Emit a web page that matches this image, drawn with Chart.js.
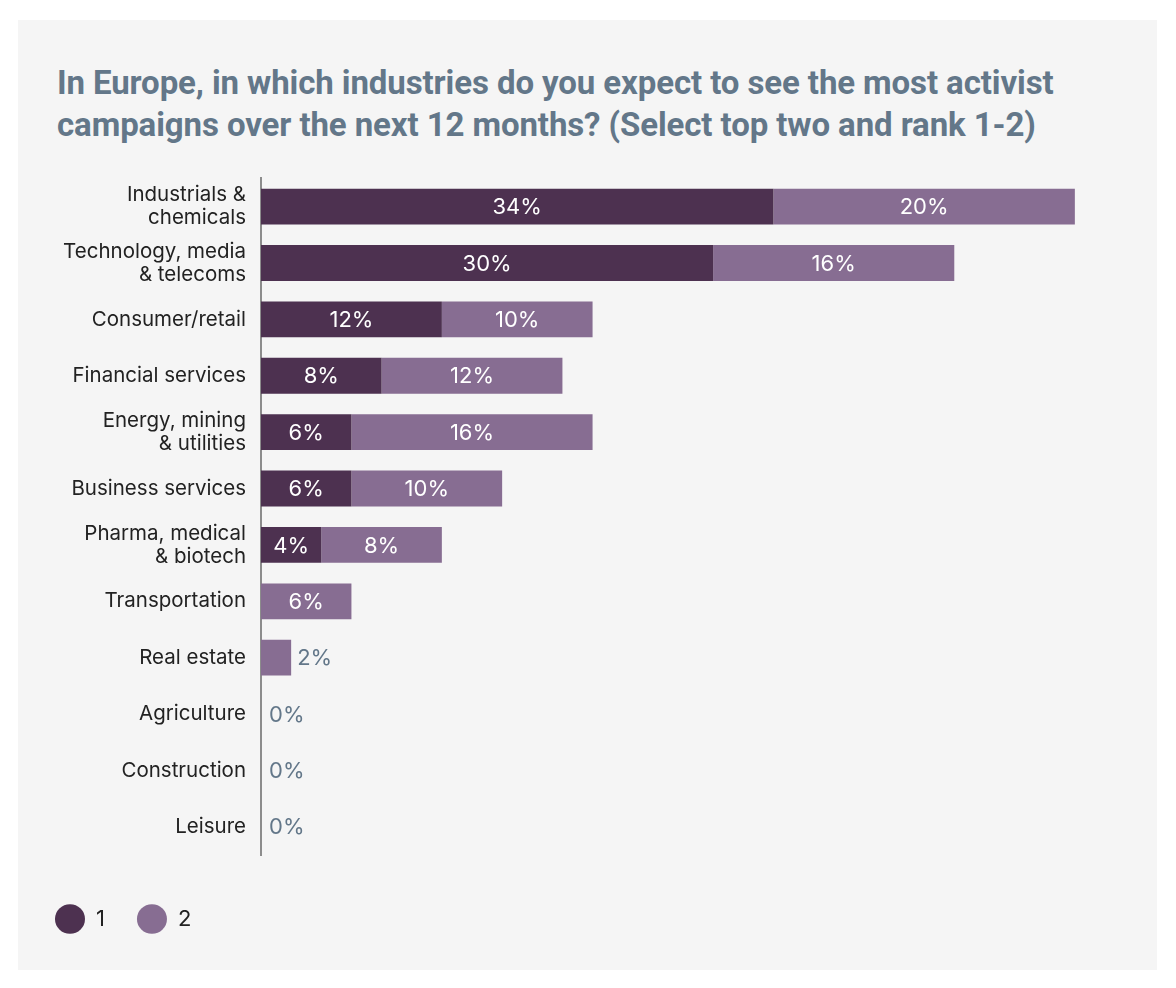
<!DOCTYPE html>
<html>
<head>
<meta charset="utf-8">
<script src="https://cdn.jsdelivr.net/npm/chart.js@4.4.1/dist/chart.umd.min.js"></script>
<style>
  body { margin: 0; background: #ffffff; width: 1176px; height: 988px; position: relative; font-family: Inter, Lato, sans-serif; }
  #panel { position: absolute; left: 18px; top: 20px; width: 1139px; height: 950px; background: #f5f5f5; }
  #title { position: absolute; left: 39px; top: 42px; margin: 0; font: bold 33px Roboto, Lato, sans-serif; line-height: 42px; color: #637789; letter-spacing: -0.1px; white-space: nowrap; }
  #wrap { position: absolute; left: 0; top: 132px; width: 1139px; height: 798px; }
</style>
</head>
<body>
<div id="panel">
  <h1 id="title">In Europe, in which industries do you expect to see the most activist<br>campaigns over the next 12 months? (Select top two and rank 1-2)</h1>
  <div id="wrap"><canvas id="chart"></canvas></div>
</div>
<script>
//====================== DATA ======================//
const industries = [
    ['Industrials &', 'chemicals'],
    ['Technology, media', '& telecoms'],
    'Consumer/retail',
    'Financial services',
    ['Energy, mining', '& utilities'],
    'Business services',
    ['Pharma, medical', '& biotech'],
    'Transportation',
    'Real estate',
    'Agriculture',
    'Construction',
    'Leisure'
];
const rank1 = [34, 30, 12, 8, 6, 6, 4, 0, 0, 0, 0, 0];
const rank2 = [20, 16, 10, 12, 16, 10, 8, 6, 2, 0, 0, 0];
const seriesNames = ['1', '2'];

const darkPurple = '#4d3150';
const lightPurple = '#876d92';
const slate = '#637789';
const fontFamily = 'Inter, Lato, sans-serif';

//====================== VALUE LABELS ======================//
const valueLabels = {
    id: 'valueLabels',
    afterDatasetsDraw(chart){
        const ctx = chart.ctx;
        const xScale = chart.scales.x;
        ctx.save();
        ctx.font = '22px ' + fontFamily;
        ctx.textBaseline = 'middle';
        chart.data.datasets.forEach(function(ds, d){
            const meta = chart.getDatasetMeta(d);
            meta.data.forEach(function(bar, i){
                const v = ds.data[i];
                if(v > 0){
                    const w = Math.abs(bar.x - bar.base);
                    if(w > 45){
                        ctx.fillStyle = '#ffffff';
                        ctx.textAlign = 'center';
                        ctx.fillText(v + '%', (bar.x + bar.base) / 2, bar.y + 1);
                    } else {
                        ctx.fillStyle = slate;
                        ctx.textAlign = 'left';
                        ctx.fillText(v + '%', bar.x + 6, bar.y + 1);
                    }
                } else if(d === 0 && rank1[i] + rank2[i] === 0){
                    ctx.fillStyle = slate;
                    ctx.textAlign = 'left';
                    ctx.fillText('0%', xScale.getPixelForValue(0) + 8, bar.y + 1);
                }
            });
        });
        ctx.restore();
    }
};

//====================== CHART ======================//
const ctx = document.getElementById('chart').getContext('2d');
const myChart = new Chart(ctx, {
    type: 'bar',
    data: {
        labels: industries,
        datasets: [
            { label: seriesNames[0], data: rank1, backgroundColor: darkPurple, borderWidth: 0 },
            { label: seriesNames[1], data: rank2, backgroundColor: lightPurple, borderWidth: 0 }
        ]
    },
    options: {
        indexAxis: 'y',
        responsive: true,
        maintainAspectRatio: false,
        animation: false,
        layout: { padding: { left: 5, right: 52, top: 10, bottom: 10 } },
        datasets: { bar: { categoryPercentage: 1, barPercentage: 0.636 } },
        scales: {
            x: {
                stacked: true, min: 0, max: 56,
                grid: { display: false, drawTicks: false },
                border: { display: false },
                ticks: { display: false },
                afterFit(scale){ scale.height = 21; }
            },
            y: {
                stacked: true,
                grid: { display: false, drawTicks: false },
                border: { display: true, color: '#8c8c8c', width: 2 },
                ticks: {
                    color: '#222222',
                    padding: 15,
                    font: { family: fontFamily, size: 20.5, lineHeight: 1.12 }
                },
                afterFit(scale){ scale.width = 238; }
            }
        },
        plugins: {
            tooltip: { enabled: false },
            legend: {
                position: 'bottom',
                align: 'start',
                labels: {
                    usePointStyle: true,
                    pointStyle: 'circle',
                    pointStyleWidth: 30,
                    boxHeight: 21,
                    padding: 32,
                    color: '#222222',
                    font: { family: fontFamily, size: 22 }
                }
            }
        }
    },
    plugins: [valueLabels]
});
</script>
</body>
</html>
